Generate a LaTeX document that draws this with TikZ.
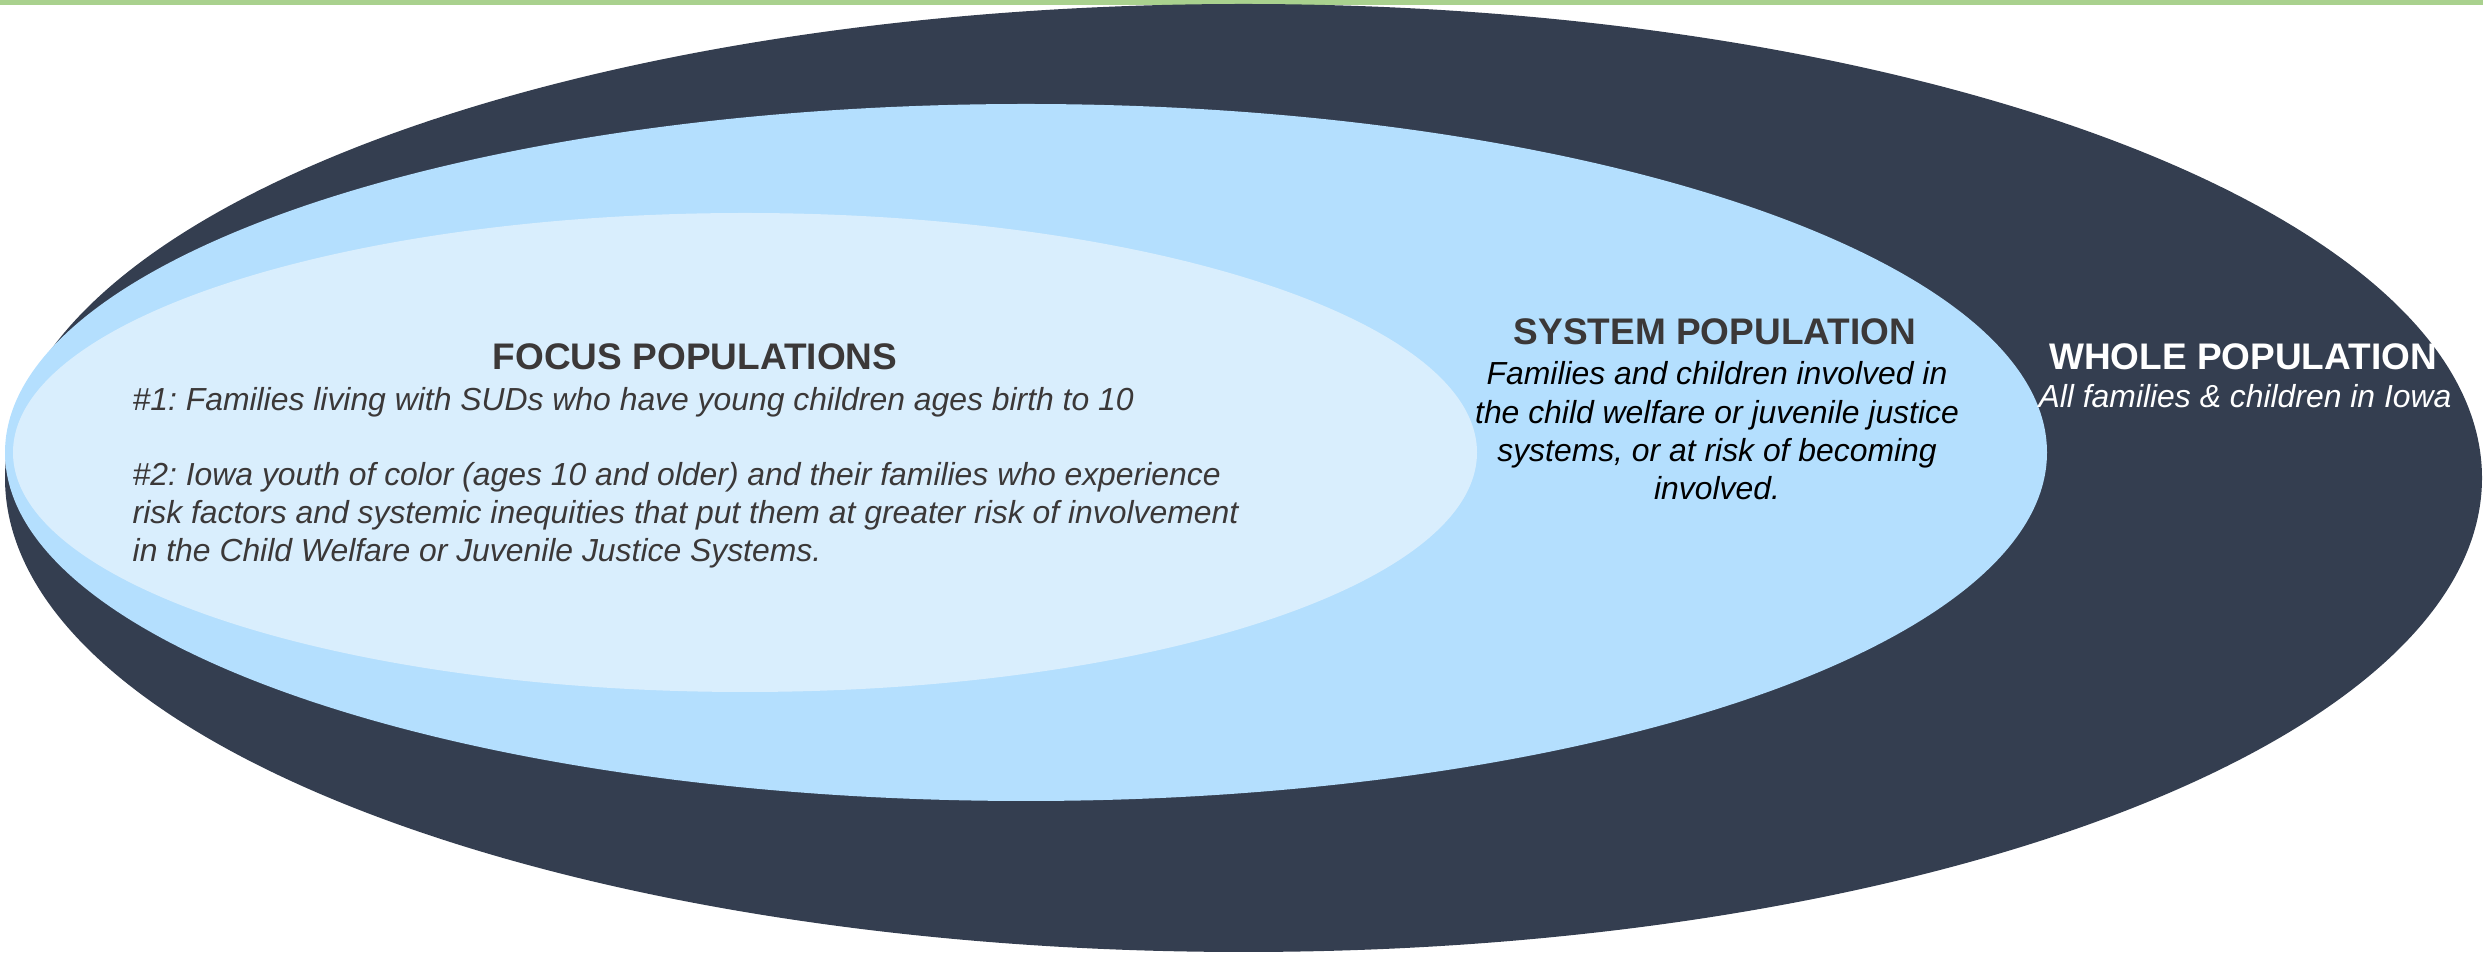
\documentclass[tikz,border=0pt]{standalone}
\usepackage{fontspec}
\setmainfont{Liberation Sans}
\frenchspacing
\definecolor{wholeblue}{HTML}{343E50}
\definecolor{systemblue}{HTML}{B4DFFE}
\definecolor{focusblue}{HTML}{D9EEFD}
\definecolor{topgreen}{HTML}{A9D18E}
\definecolor{headgray}{HTML}{3B3838}
\begin{document}
\begin{tikzpicture}[x=0.1mm,y=0.1mm]
    \tikzstyle{heading}=[inner sep=0,anchor=base,font=\fontsize{10.53pt}{12pt}\selectfont\bfseries]
    \tikzstyle{body}=[inner sep=0,font=\fontsize{9.07pt}{10.95pt}\selectfont\itshape]
    \useasboundingbox (0,0) rectangle (2483,955);

    % rings
    \fill[topgreen] (0,950) rectangle (2483,955);
    \fill[wholeblue] (1243.5,477) ellipse (123.85mm and 47.4mm);
    \fill[systemblue] (1026,502.5) ellipse (102.1mm and 34.85mm);
    \fill[focusblue] (745,502.5) ellipse (73.2mm and 23.95mm);

    % focus populations (base = last line)
    \node(focus)[heading,text=headgray] at (695,585) {FOCUS POPULATIONS};
    \node(focus text)[body,text=headgray,anchor=base west,align=left] at (132,393)
        {\#1: Families living with SUDs who have young children ages birth to 10\\[3.65mm]
         \#2: Iowa youth of color (ages 10 and older) and their families who experience\\
         risk factors and systemic inequities that put them at greater risk of involvement\\
         in the Child Welfare or Juvenile Justice Systems.};

    % system population
    \node(system)[heading,text=headgray] at (1715,610) {SYSTEM POPULATION};
    \node(system text)[body,text=black,anchor=base,align=center] at (1717,455)
        {Families and children involved in\\
         the child welfare or juvenile justice\\
         systems, or at risk of becoming\\
         involved.};

    % whole population
    \node(whole)[heading,text=white] at (2243,585) {WHOLE POPULATION};
    \node(whole text)[body,text=white,anchor=base] at (2245,547) {All families \& children in Iowa};
\end{tikzpicture}
\end{document}
